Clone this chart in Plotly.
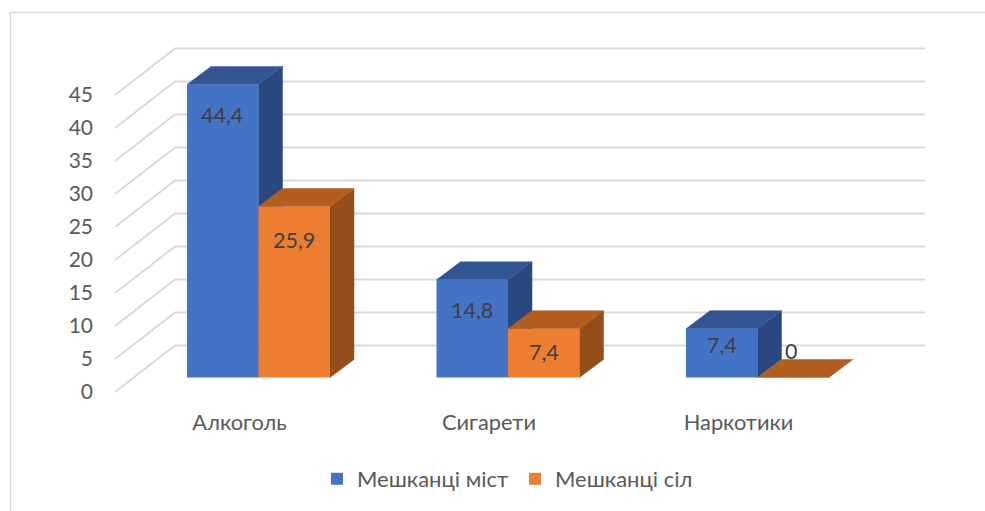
import plotly.graph_objects as go

categories = ["Алкоголь", "Сигарети", "Наркотики"]
series_names = ["Мешканці міст", "Мешканці сіл"]
city_values = [44.4, 14.8, 7.4]
village_values = [25.9, 7.4, 0]
y_ticks = [0, 5, 10, 15, 20, 25, 30, 35, 40, 45]

W, H = 985, 511
PX_PER_UNIT = 6.6
PX_PER_CAT = 249.5
CAT0_PX = 258.5
ZERO_FRONT_PX = 392.0
BAR_W = 71.5 / PX_PER_CAT
FONT = "Lato, 'Open Sans', sans-serif"

xr = [-CAT0_PX / PX_PER_CAT, (W - CAT0_PX) / PX_PER_CAT]
yr = [(ZERO_FRONT_PX - H) / PX_PER_UNIT, ZERO_FRONT_PX / PX_PER_UNIT]

dx = lambda px: px / PX_PER_CAT
dy = lambda px: px / PX_PER_UNIT
xpx = lambda px: (px - CAT0_PX) / PX_PER_CAT

BAR_BASE = dy(14.5)          # floor position of the bars inside the 3D box
DEPTH_X, DEPTH_Y = dx(24), dy(18)

shapes = []
line_col = "#d9d9d9"
# chart frame
shapes.append(dict(type="path", xref="paper", yref="paper", layer="below",
                   path=f"M {10.5/W} 0 L {10.5/W} {1-12.5/H} L 1 {1-12.5/H}",
                   line=dict(color=line_col, width=1.5)))
# wall gridlines and diagonal floor/side lines
for t in y_ticks:
    back = t + dy(46.5)
    path = f"M {xpx(115)} {t} L {xpx(175)} {back} L {xpx(925)} {back}"
    shapes.append(dict(type="path", xref="x", yref="y", layer="below", path=path,
                       line=dict(color=line_col, width=1.8)))


def poly(pts, color):
    d = "M " + " L ".join(f"{a} {b}" for a, b in pts) + " Z"
    return dict(type="path", xref="x", yref="y", layer="below", path=d,
                fillcolor=color, line=dict(color=color, width=0.5))


series = [
    (city_values, -BAR_W / 2, "#4472C4", "#335593", "#2A4880"),
    (village_values, BAR_W / 2, "#ED7D31", "#B35E21", "#944E1C"),
]
for vals, off, front, top, side in series:
    for i, v in enumerate(vals):
        x0, x1 = i + off - BAR_W / 2, i + off + BAR_W / 2
        y0, y1 = BAR_BASE, BAR_BASE + v
        if v > 0:
            shapes.append(poly([(x1, y0), (x1 + DEPTH_X, y0 + DEPTH_Y),
                                (x1 + DEPTH_X, y1 + DEPTH_Y), (x1, y1)], side))
        shapes.append(poly([(x0, y1), (x0 + DEPTH_X, y1 + DEPTH_Y),
                            (x1 + DEPTH_X, y1 + DEPTH_Y), (x1, y1)], top))

fig = go.Figure()
for (vals, off, front, top, side), name in zip(series, series_names):
    fig.add_trace(go.Bar(
        x=[i + off for i in range(len(vals))], y=vals, base=[BAR_BASE] * len(vals),
        width=BAR_W, name=name, marker=dict(color=front, line=dict(width=0)),
        hoverinfo="name+y"))

label_shift_down = [[31, 30, 16], [33, 23, -27]]
label_shift_right = [[-1, 0, 0], [0, 0, -2]]
annotations = []
for s, (vals, off, *_rest) in enumerate(series):
    for i, v in enumerate(vals):
        annotations.append(dict(
            x=i + off, y=BAR_BASE + v, xref="x", yref="y",
            text=f"{v}".replace(".", ","), showarrow=False,
            yshift=-label_shift_down[s][i], xshift=label_shift_right[s][i],
            font=dict(family=FONT, size=21.5, color="#404040")))

fig.update_layout(
    width=W, height=H, margin=dict(l=0, r=0, t=0, b=0),
    paper_bgcolor="white", plot_bgcolor="white",
    barmode="overlay", shapes=shapes, annotations=annotations,
    font=dict(family=FONT, color="#595959", size=21),
    xaxis=dict(range=xr, showgrid=False, zeroline=False, showline=False,
               tickmode="array", tickvals=[i - dx(19) for i in range(3)],
               ticktext=categories, ticks="", anchor="free",
               position=1 - 407 / H, fixedrange=True,
               tickfont=dict(family=FONT, size=21.8, color="#595959")),
    yaxis=dict(range=yr, showgrid=False, zeroline=False, showline=False,
               tickmode="array", tickvals=y_ticks, ticktext=[str(t) for t in y_ticks],
               ticks="", anchor="free", position=93 / W, fixedrange=True,
               tickfont=dict(family=FONT, size=21, color="#595959")),
    legend=dict(orientation="h", x=317 / W, xanchor="left", y=1 - 479 / H,
                yanchor="middle", entrywidth=153, entrywidthmode="pixels",
                bgcolor="rgba(0,0,0,0)", font=dict(family=FONT, size=22, color="#595959")),
    showlegend=True,
)
fig.write_html("out.html", post_script="document.body.style.margin='0';document.body.style.overflow='hidden';",
               config={"displayModeBar": False})
